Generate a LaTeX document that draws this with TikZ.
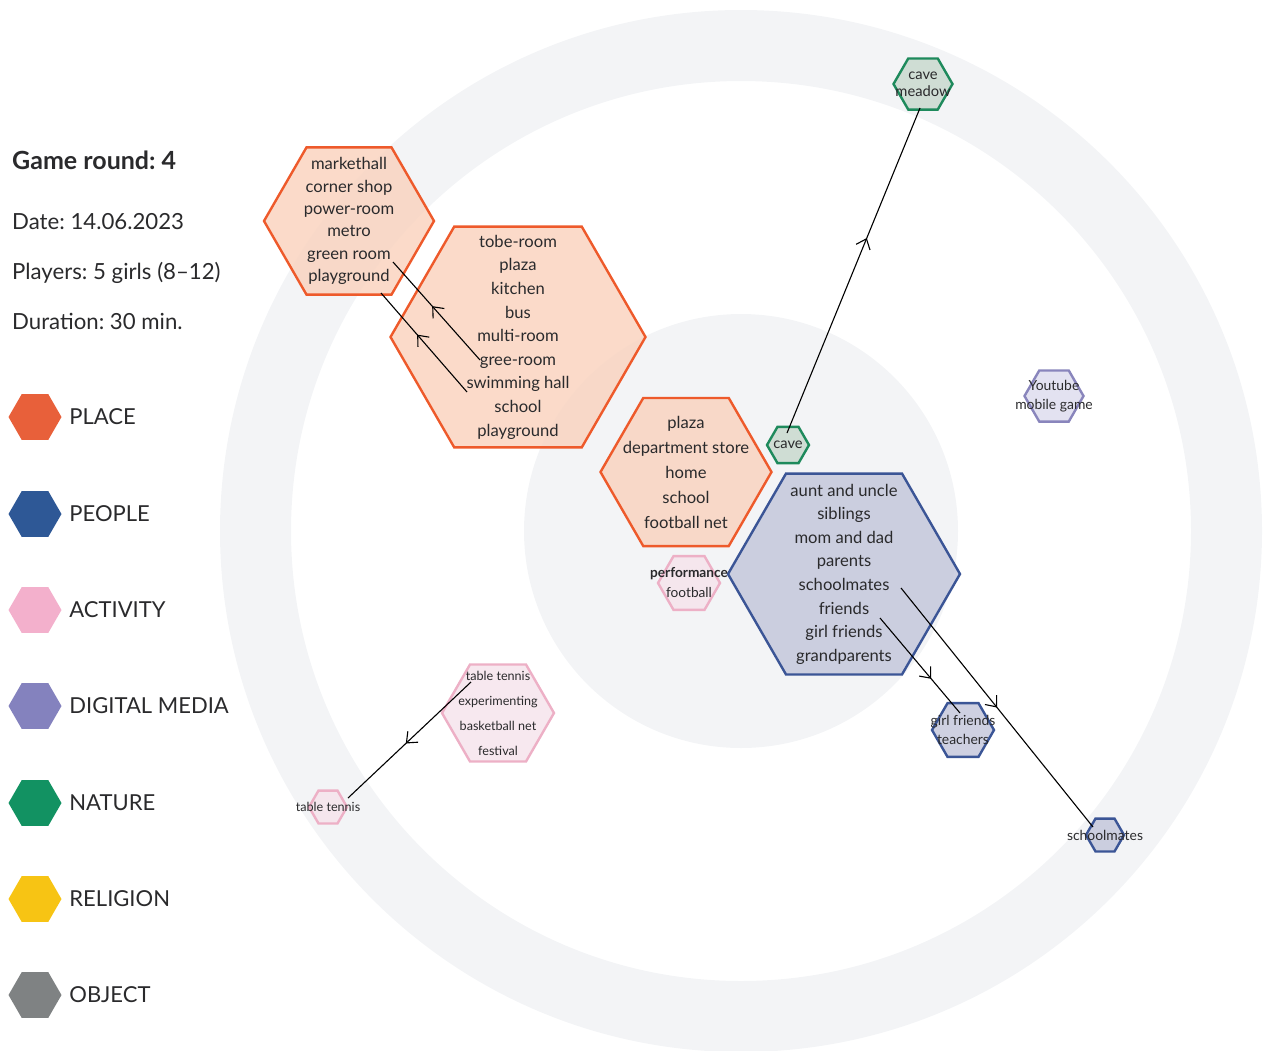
\documentclass[tikz,border=0pt]{standalone}
\usepackage{fontspec}
\setmainfont{Lato}
\frenchspacing
\usepackage{tikz}
\usetikzlibrary{arrows.meta,shapes.geometric,positioning,decorations.markings}
\definecolor{ringgray}{RGB}{243,244,246}
\definecolor{textgray}{RGB}{42,42,44}
\definecolor{placeorange}{RGB}{232,96,58}
\definecolor{placeline}{RGB}{238,90,43}
\definecolor{placefill}{RGB}{250,212,192}
\definecolor{peopleblue}{RGB}{46,88,150}
\definecolor{peopleline}{RGB}{59,85,150}
\definecolor{peoplefill}{RGB}{197,200,220}
\definecolor{activitypink}{RGB}{243,176,204}
\definecolor{activityline}{RGB}{237,176,198}
\definecolor{activityfill}{RGB}{246,228,236}
\definecolor{digitalpurple}{RGB}{132,130,190}
\definecolor{digitalline}{RGB}{137,133,188}
\definecolor{digitalfill}{RGB}{222,221,238}
\definecolor{naturegreen}{RGB}{18,146,98}
\definecolor{natureline}{RGB}{30,138,92}
\definecolor{naturefill}{RGB}{201,217,207}
\definecolor{religionyellow}{RGB}{247,196,20}
\definecolor{objectgray}{RGB}{127,130,131}

\begin{document}
\begin{tikzpicture}[x=1pt, y=-1pt,
    hexnode/.style={regular polygon, regular polygon sides=6, inner sep=0pt, line width=2.4pt, fill opacity=0.85},
    placehex/.style={hexnode, draw=placeline, fill=placefill},
    peoplehex/.style={hexnode, draw=peopleline, fill=peoplefill},
    activityhex/.style={hexnode, draw=activityline, fill=activityfill},
    digitalhex/.style={hexnode, draw=digitalline, fill=digitalfill},
    naturehex/.style={hexnode, draw=natureline, fill=naturefill},
    hextext/.style={align=center, text=textgray, inner sep=0pt, font=\fontsize{16.6}{23.6}\selectfont},
    legendhex/.style={regular polygon, regular polygon sides=6, minimum size=53pt, inner sep=0pt},
    legendtext/.style={text=textgray, inner sep=0pt, font=\fontsize{22}{26}\selectfont},
    infotext/.style={anchor=base west, inner sep=0pt, text=textgray, font=\fontsize{22.2}{26}\selectfont},
    link/.style={line width=1.1pt, black, postaction={decorate},
        decoration={markings, mark=at position #1 with {\arrow{Straight Barb[length=9pt,width=15pt,line width=1.1pt]}}}},
    link/.default=0.55
]
    \useasboundingbox (0,0) rectangle (1263,1050);

    % Rings
    \coordinate (ctr) at (741,531);
    \fill[ringgray, even odd rule] (ctr) circle[radius=521] (ctr) circle[radius=450];
    \fill[ringgray] (ctr) circle[radius=217];

    % Game info
    \node[infotext, font=\bfseries\fontsize{25}{29}\selectfont] (round) at (12,169) {Game round: 4};
    \node[infotext] (date) at (12,229) {Date: 14.06.2023};
    \node[infotext] (players) at (12,279) {Players: 5 girls (8--12)};
    \node[infotext] (duration) at (12,329) {Duration: 30 min.};

    % Legend
    \node[legendhex, fill=placeorange] (place) at (35,417) {};
    \node[legendtext, right=7.5pt of place] (place-l) {PLACE};
    \node[legendhex, fill=peopleblue] (people) at (35,514) {};
    \node[legendtext, right=7.5pt of people] (people-l) {PEOPLE};
    \node[legendhex, fill=activitypink] (activity) at (35,610) {};
    \node[legendtext, right=7.5pt of activity] (activity-l) {ACTIVITY};
    \node[legendhex, fill=digitalpurple] (digital) at (35,706) {};
    \node[legendtext, right=7.5pt of digital] (digital-l) {DIGITAL MEDIA};
    \node[legendhex, fill=naturegreen] (nature) at (35,803) {};
    \node[legendtext, right=7.5pt of nature] (nature-l) {NATURE};
    \node[legendhex, fill=religionyellow] (religion) at (35,899) {};
    \node[legendtext, right=7.5pt of religion] (religion-l) {RELIGION};
    \node[legendhex, fill=objectgray] (object) at (35,995) {};
    \node[legendtext, right=7.5pt of object] (object-l) {OBJECT};

    % Places
    \node[placehex, minimum size=170] (markethall) at (349,221) {};
    \node[hextext, font=\fontsize{16.6}{22.3}\selectfont] (markethall-t) at (markethall)
        {markethall\\corner shop\\power-room\\metro\\green room\\playground};
    \node[placehex, minimum size=255] (toberoom) at (518,337) {};
    \node[hextext] (toberoom-t) at (toberoom)
        {tobe-room\\plaza\\kitchen\\bus\\multi-room\\gree-room\\swimming hall\\school\\playground};
    \node[placehex, minimum size=171] (plaza) at (686,472) {};
    \node[hextext, font=\fontsize{16.6}{25}\selectfont] (plaza-t) at (plaza)
        {plaza\\department store\\home\\school\\football net};

    % People
    \node[peoplehex, minimum size=232] (family) at (844,574) {};
    \node[hextext] (family-t) at (family)
        {aunt and uncle\\siblings\\mom and dad\\parents\\schoolmates\\friends\\girl friends\\grandparents};
    \node[peoplehex, minimum size=62] (teachers) at (963,730) {};
    \node[hextext, font=\fontsize{13.9}{19}\selectfont] (teachers-t) at (teachers) {girl friends\\teachers};
    \node[peoplehex, minimum size=38] (schoolmates) at (1105,835) {};
    \node[hextext, font=\fontsize{13.9}{19}\selectfont] (schoolmates-t) at (schoolmates) {schoolmates};

    % Nature
    \node[naturehex, minimum size=42] (cave) at (788,445) {};
    \node[hextext, font=\fontsize{14.7}{17}\selectfont] (cave-t) at (cave) {cave};
    \node[naturehex, minimum size=59] (meadow) at (923,84) {};
    \node[hextext, font=\fontsize{14.7}{17}\selectfont] (meadow-t) at (meadow) {cave\\meadow};

    % Digital media
    \node[digitalhex, minimum size=59] (youtube) at (1054,396) {};
    \node[hextext, font=\fontsize{13.9}{19}\selectfont] (youtube-t) at (youtube) {Youtube\\mobile game};

    % Activities
    \node[activityhex, minimum size=62] (performance) at (689,583) {};
    \node[hextext, font=\fontsize{13.7}{20}\selectfont] (performance-t) at (performance)
        {\textbf{performance}\\football};
    \node[activityhex, minimum size=112] (tabletennis) at (498,713) {};
    \node[hextext, font=\fontsize{12.6}{25}\selectfont] (tabletennis-t) at (tabletennis)
        {table tennis\\experimenting\\basketball net\\festival};
    \node[activityhex, minimum size=38] (tennis) at (328,807) {};
    \node[hextext, font=\fontsize{12.6}{16}\selectfont] (tennis-t) at (tennis) {table tennis};

    % Link ends
    \coordinate (greeroom) at (480,360);
    \coordinate (greenroom) at (393,262);
    \coordinate (swimming) at (467,392);
    \coordinate (playground) at (381,293);
    \coordinate (cavetop) at (787,433);
    \coordinate (meadowbottom) at (920,108);
    \coordinate (tennistop) at (471,682);
    \coordinate (tennisend) at (348,798);
    \coordinate (friends) at (880,618);
    \coordinate (girlfriends) at (960,713);
    \coordinate (mates) at (901,588);
    \coordinate (matesend) at (1093,827);

    % Links
    \draw[link=0.55] (greeroom) -- (greenroom);
    \draw[link=0.58] (swimming) -- (playground);
    \draw[link=0.6] (cavetop) -- (meadowbottom);
    \draw[link=0.53] (tennistop) -- (tennisend);
    \draw[link=0.64] (friends) -- (girlfriends);
    \draw[link=0.5] (mates) -- (matesend);
\end{tikzpicture}
\end{document}
